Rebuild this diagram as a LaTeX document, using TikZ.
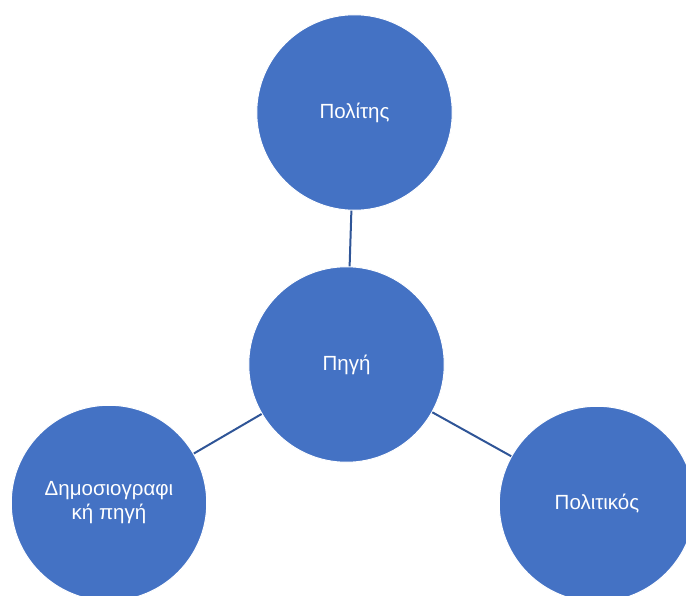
\documentclass[tikz,border=0pt]{standalone}
\usepackage{fontspec}
\setmainfont{Liberation Sans}
\definecolor{cfill}{HTML}{4472C4}
\definecolor{cline}{HTML}{2F5597}
\begin{document}
\begin{tikzpicture}[x=1pt,y=-1pt,
  bubble/.style={circle,fill=cfill,draw=white,line width=1pt,minimum size=195.5pt,inner sep=0pt,
    text=white,font=\fontsize{20.5}{24}\selectfont,align=center},
  link/.style={draw=cline,line width=2pt}]
\useasboundingbox (0,0) rectangle (686,596);
\clip (0,0) rectangle (686,596);
\node[bubble] (top) at (354.5,112.5) {Πολίτης};
\node[bubble] (mid) at (346.5,364.5) {Πηγή};
\node[bubble] (left) at (109,503) {Δημοσιογραφι\\κή πηγή};
\node[bubble] (right) at (597,504) {Πολιτικός};
\draw[link] (top) -- (mid);
\draw[link] (mid) -- (left);
\draw[link] (mid) -- (right);
\end{tikzpicture}
\end{document}
